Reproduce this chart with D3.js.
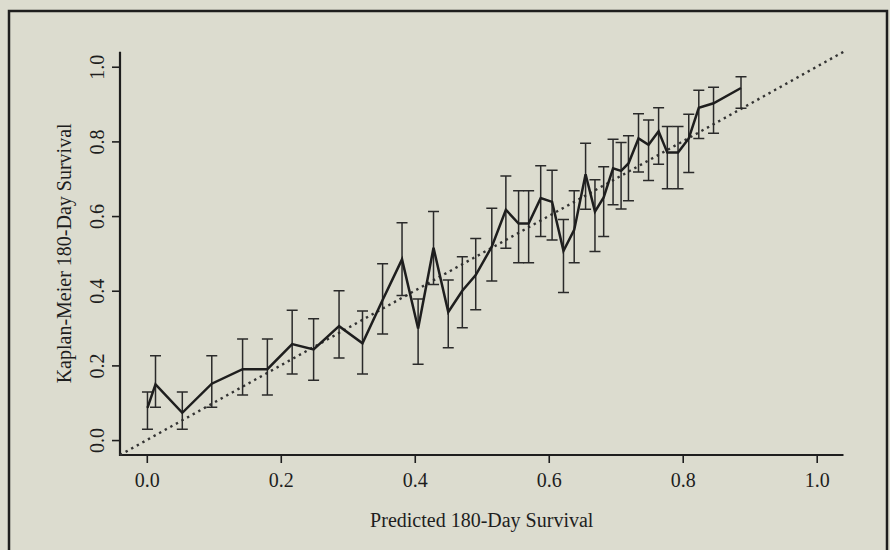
<!DOCTYPE html>
<html>
<head>
<meta charset="utf-8">
<script src="https://cdn.jsdelivr.net/npm/d3@7"></script>
<style>
  html, body { margin: 0; padding: 0; background: #dcdccf; }
  svg { display: block; }
  text { font-family: "Liberation Serif", "Times New Roman", serif; fill: #1e1e1e; }
</style>
</head>
<body>
<svg id="chart" width="890" height="550"></svg>
<script>
// Predicted 180-day survival (group means) and Kaplan-Meier estimates with 95% limits
const predicted = [0.001, 0.013, 0.053, 0.097, 0.143, 0.180, 0.217, 0.249, 0.287, 0.322,
  0.352, 0.381, 0.405, 0.428, 0.450, 0.471, 0.491, 0.515, 0.536, 0.555,
  0.570, 0.588, 0.605, 0.622, 0.638, 0.655, 0.669, 0.682, 0.696, 0.708,
  0.719, 0.734, 0.749, 0.764, 0.777, 0.793, 0.809, 0.824, 0.846, 0.887];
const kmSurvival = [0.086, 0.149, 0.073, 0.151, 0.190, 0.190, 0.257, 0.243, 0.305, 0.259,
  0.375, 0.484, 0.299, 0.515, 0.343, 0.400, 0.442, 0.518, 0.617, 0.580,
  0.580, 0.648, 0.638, 0.507, 0.563, 0.712, 0.612, 0.650, 0.728, 0.721,
  0.741, 0.808, 0.791, 0.827, 0.770, 0.770, 0.808, 0.890, 0.902, 0.943];
const kmLower = [0.029, 0.088, 0.029, 0.088, 0.121, 0.121, 0.177, 0.160, 0.220, 0.177,
  0.284, 0.387, 0.203, 0.417, 0.247, 0.301, 0.349, 0.426, 0.514, 0.475,
  0.475, 0.545, 0.536, 0.395, 0.475, 0.618, 0.505, 0.545, 0.630, 0.619,
  0.641, 0.718, 0.695, 0.739, 0.673, 0.673, 0.717, 0.808, 0.822, 0.889];
const kmUpper = [0.129, 0.226, 0.129, 0.226, 0.271, 0.271, 0.348, 0.325, 0.400, 0.346,
  0.472, 0.582, 0.378, 0.612, 0.429, 0.491, 0.540, 0.621, 0.707, 0.668,
  0.668, 0.735, 0.723, 0.591, 0.668, 0.795, 0.697, 0.732, 0.806, 0.797,
  0.815, 0.874, 0.857, 0.890, 0.840, 0.840, 0.873, 0.937, 0.945, 0.973];
const xTicks = [0, 0.2, 0.4, 0.6, 0.8, 1.0];
const yTicks = [0, 0.2, 0.4, 0.6, 0.8, 1.0];
const xTitle = "Predicted 180-Day Survival";
const yTitle = "Kaplan-Meier 180-Day Survival";

const points = predicted.map((p, i) => ({ x: p, y: kmSurvival[i], lo: kmLower[i], hi: kmUpper[i] }));

const svg = d3.select("#chart");
const ink = "#1e1e1e";
const fontSize = 20;

// page frame
svg.append("path")
  .attr("d", "M9,550 L9,11 L887,11 L887,550")
  .attr("fill", "none").attr("stroke", ink).attr("stroke-width", 2.5);

const x = d3.scaleLinear().domain([-0.04, 1.04]).range([120, 843.5]);
const y = d3.scaleLinear().domain([-0.04, 1.04]).range([455, 51.8]);

const fmt = d3.format(".1f");

// x axis
const gx = svg.append("g").attr("transform", `translate(0,${y(-0.04)})`)
  .call(d3.axisBottom(x).tickValues(xTicks).tickFormat(fmt).tickSize(8).tickPadding(10));
gx.select(".domain").remove();
gx.selectAll(".tick line").attr("stroke", ink).attr("stroke-width", 1.6);
gx.selectAll(".tick text").attr("font-size", fontSize).attr("font-family", "Liberation Serif").attr("fill", ink);

// y axis with labels parallel to the axis
const gy = svg.append("g").attr("transform", `translate(${x(-0.04)},0)`)
  .call(d3.axisLeft(y).tickValues(yTicks).tickFormat(fmt).tickSize(8).tickPadding(10));
gy.select(".domain").remove();
gy.selectAll(".tick line").attr("stroke", ink).attr("stroke-width", 1.6);
gy.selectAll(".tick text")
  .attr("font-size", fontSize).attr("font-family", "Liberation Serif").attr("fill", ink)
  .attr("text-anchor", "middle").attr("x", null).attr("dy", null)
  .attr("transform", "translate(-23,0) rotate(-90)")
  .attr("dominant-baseline", "central");

// L-shaped box
svg.append("path")
  .attr("d", `M${x(-0.04)},${y(1.04)} L${x(-0.04)},${y(-0.04)} L${x(1.04)},${y(-0.04)}`)
  .attr("fill", "none").attr("stroke", ink).attr("stroke-width", 2.2);

// identity reference line
svg.append("line")
  .attr("x1", x(-0.04)).attr("y1", y(-0.04))
  .attr("x2", x(1.04)).attr("y2", y(1.04))
  .attr("stroke", "#333").attr("stroke-width", 2.4)
  .attr("stroke-dasharray", "2.4,4");

// error bars
const capHalf = 5.5;
const bars = svg.append("g").attr("stroke", "#2a2a2a").attr("stroke-width", 1.5).attr("fill", "none");
bars.selectAll("path").data(points).join("path")
  .attr("d", d => {
    const cx = x(d.x), t = y(d.hi), b = y(d.lo);
    return `M${cx},${t} L${cx},${b} M${cx - capHalf},${t} L${cx + capHalf},${t} M${cx - capHalf},${b} L${cx + capHalf},${b}`;
  });

// observed survival line
svg.append("path")
  .datum(points)
  .attr("fill", "none").attr("stroke", ink).attr("stroke-width", 2.5)
  .attr("stroke-linejoin", "miter")
  .attr("d", d3.line().x(d => x(d.x)).y(d => y(d.y)));

// axis titles
svg.append("text")
  .attr("x", (x(0) + x(1)) / 2).attr("y", 527)
  .attr("text-anchor", "middle").attr("font-size", fontSize)
  .text(xTitle);

svg.append("text")
  .attr("transform", `translate(71,${(y(0) + y(1)) / 2}) rotate(-90)`)
  .attr("text-anchor", "middle").attr("font-size", fontSize)
  .text(yTitle);
</script>
</body>
</html>
